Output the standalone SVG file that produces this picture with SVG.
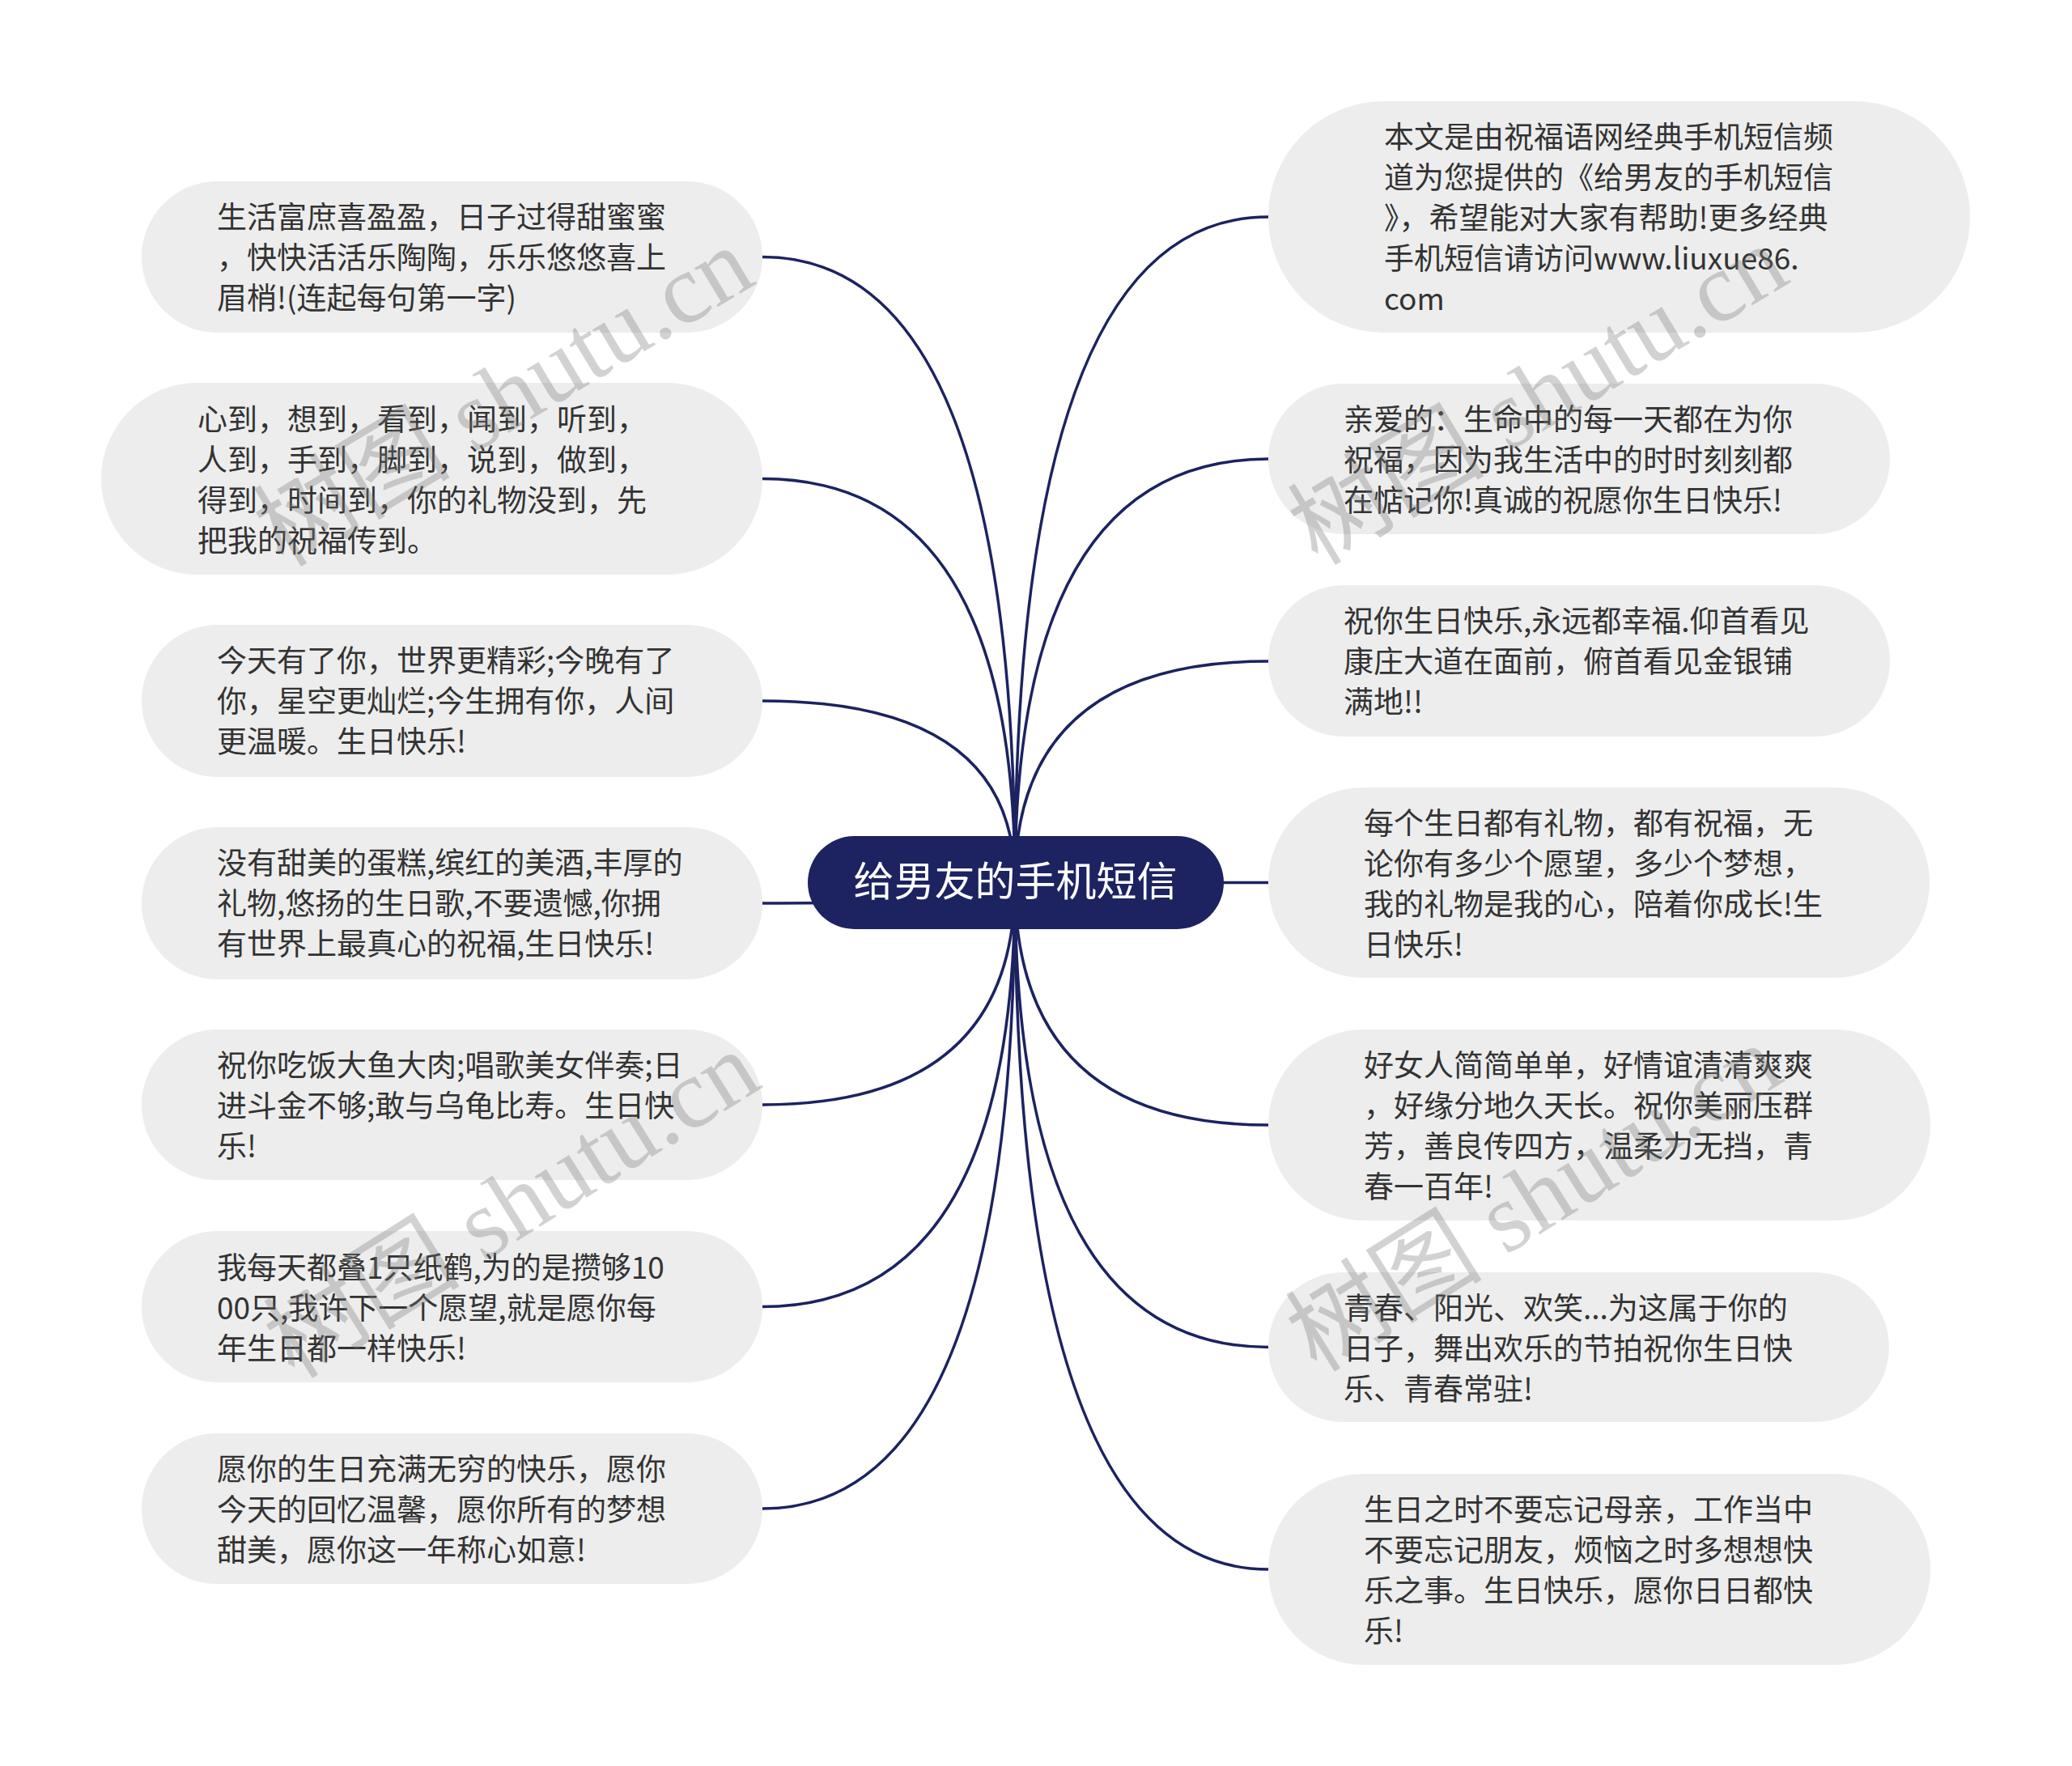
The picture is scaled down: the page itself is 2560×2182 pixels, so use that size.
<svg xmlns="http://www.w3.org/2000/svg" width="2560" height="2182" viewBox="0 0 2560 2182">
<style>
.n{fill:#ededed}
.t{font-family:"Noto Sans CJK SC","Noto Sans",sans-serif;font-size:37px;fill:#333333}
.c{fill:#1c2360}
.ct{font-family:"Noto Sans CJK SC","Noto Sans",sans-serif;font-size:50px;fill:#ffffff}
.e{fill:none;stroke:#1c2360;stroke-width:3.5}
.w{font-family:"Liberation Serif","Noto Sans CJK SC",serif;font-size:122px;fill:#777777;opacity:0.32}
</style>
<rect width="2560" height="2182" fill="#ffffff"/>
<g id="connectors">
<path class="e" d="M1254,1090 Q1254,317.5 942,317.5"/>
<path class="e" d="M1254,1090 Q1254,591.5 942,591.5"/>
<path class="e" d="M1254,1090 Q1254,866 942,866"/>
<path class="e" d="M1254,1090 Q1254,1116 942,1116"/>
<path class="e" d="M1254,1090 Q1254,1365 942,1365"/>
<path class="e" d="M1254,1090 Q1254,1614.5 942,1614.5"/>
<path class="e" d="M1254,1090 Q1254,1864 942,1864"/>
<path class="e" d="M1254,1090 Q1254,268 1567,268"/>
<path class="e" d="M1254,1090 Q1254,567 1567,567"/>
<path class="e" d="M1254,1090 Q1254,817 1567,817"/>
<path class="e" d="M1254,1090.5 L1567,1090.5"/>
<path class="e" d="M1254,1090 Q1254,1390 1567,1390"/>
<path class="e" d="M1254,1090 Q1254,1664.5 1567,1664.5"/>
<path class="e" d="M1254,1090 Q1254,1939 1567,1939"/>
</g>
<g id="center">
<rect class="c" x="998" y="1033" width="514" height="115" rx="57.5"/>
<text class="ct" x="1254.5" y="1107" text-anchor="middle">给男友的手机短信</text>
</g>
<g id="L1">
<rect class="n" x="175" y="224" width="767" height="187" rx="93.5"/>
<text class="t"><tspan x="268" y="282">生活富庶喜盈盈，日子过得甜蜜蜜</tspan><tspan x="268" y="332">，快快活活乐陶陶，乐乐悠悠喜上</tspan><tspan x="268" y="382">眉梢!(连起每句第一字)</tspan></text>
</g>
<g id="L2">
<rect class="n" x="125" y="473" width="817" height="237" rx="118.5"/>
<text class="t"><tspan x="244" y="532">心到，想到，看到，闻到，听到，</tspan><tspan x="244" y="582">人到，手到，脚到，说到，做到，</tspan><tspan x="244" y="632">得到，时间到，你的礼物没到，先</tspan><tspan x="244" y="682">把我的祝福传到。</tspan></text>
</g>
<g id="L3">
<rect class="n" x="175" y="772" width="767" height="188" rx="94"/>
<text class="t"><tspan x="268" y="830">今天有了你，世界更精彩;今晚有了</tspan><tspan x="268" y="880">你，星空更灿烂;今生拥有你，人间</tspan><tspan x="268" y="930">更温暖。生日快乐!</tspan></text>
</g>
<g id="L4">
<rect class="n" x="175" y="1022" width="767" height="188" rx="94"/>
<text class="t"><tspan x="268" y="1080">没有甜美的蛋糕,缤红的美酒,丰厚的</tspan><tspan x="268" y="1130">礼物,悠扬的生日歌,不要遗憾,你拥</tspan><tspan x="268" y="1180">有世界上最真心的祝福,生日快乐!</tspan></text>
</g>
<g id="L5">
<rect class="n" x="175" y="1272" width="767" height="186" rx="93"/>
<text class="t"><tspan x="268" y="1330">祝你吃饭大鱼大肉;唱歌美女伴奏;日</tspan><tspan x="268" y="1380">进斗金不够;敢与乌龟比寿。生日快</tspan><tspan x="268" y="1430">乐!</tspan></text>
</g>
<g id="L6">
<rect class="n" x="175" y="1521" width="767" height="187" rx="93.5"/>
<text class="t"><tspan x="268" y="1580">我每天都叠1只纸鹤,为的是攒够10</tspan><tspan x="268" y="1630">00只,我许下一个愿望,就是愿你每</tspan><tspan x="268" y="1680">年生日都一样快乐!</tspan></text>
</g>
<g id="L7">
<rect class="n" x="175" y="1771" width="767" height="186" rx="93"/>
<text class="t"><tspan x="268" y="1829">愿你的生日充满无穷的快乐，愿你</tspan><tspan x="268" y="1879">今天的回忆温馨，愿你所有的梦想</tspan><tspan x="268" y="1929">甜美，愿你这一年称心如意!</tspan></text>
</g>
<g id="R1">
<rect class="n" x="1567" y="125" width="867" height="286" rx="143"/>
<text class="t"><tspan x="1710" y="183">本文是由祝福语网经典手机短信频</tspan><tspan x="1710" y="233">道为您提供的《给男友的手机短信</tspan><tspan x="1710" y="283">》，希望能对大家有帮助!更多经典</tspan><tspan x="1710" y="333">手机短信请访问www.liuxue86.</tspan><tspan x="1710" y="383">com</tspan></text>
</g>
<g id="R2">
<rect class="n" x="1567" y="474" width="768" height="186" rx="93"/>
<text class="t"><tspan x="1660" y="532">亲爱的：生命中的每一天都在为你</tspan><tspan x="1660" y="582">祝福，因为我生活中的时时刻刻都</tspan><tspan x="1660" y="632">在惦记你!真诚的祝愿你生日快乐!</tspan></text>
</g>
<g id="R3">
<rect class="n" x="1567" y="723" width="768" height="187" rx="93.5"/>
<text class="t"><tspan x="1660" y="781">祝你生日快乐,永远都幸福.仰首看见</tspan><tspan x="1660" y="831">康庄大道在面前，俯首看见金银铺</tspan><tspan x="1660" y="881">满地!!</tspan></text>
</g>
<g id="R4">
<rect class="n" x="1567" y="973" width="817" height="235" rx="117.5"/>
<text class="t"><tspan x="1685" y="1031">每个生日都有礼物，都有祝福，无</tspan><tspan x="1685" y="1081">论你有多少个愿望，多少个梦想，</tspan><tspan x="1685" y="1131">我的礼物是我的心，陪着你成长!生</tspan><tspan x="1685" y="1181">日快乐!</tspan></text>
</g>
<g id="R5">
<rect class="n" x="1567" y="1272" width="818" height="236" rx="118"/>
<text class="t"><tspan x="1685" y="1330">好女人简简单单，好情谊清清爽爽</tspan><tspan x="1685" y="1380">，好缘分地久天长。祝你美丽压群</tspan><tspan x="1685" y="1430">芳，善良传四方，温柔力无挡，青</tspan><tspan x="1685" y="1480">春一百年!</tspan></text>
</g>
<g id="R6">
<rect class="n" x="1567" y="1572" width="767" height="185" rx="92.5"/>
<text class="t"><tspan x="1660" y="1630">青春、阳光、欢笑...为这属于你的</tspan><tspan x="1660" y="1680">日子，舞出欢乐的节拍祝你生日快</tspan><tspan x="1660" y="1730">乐、青春常驻!</tspan></text>
</g>
<g id="R7">
<rect class="n" x="1567" y="1821" width="818" height="236" rx="118"/>
<text class="t"><tspan x="1685" y="1879">生日之时不要忘记母亲，工作当中</tspan><tspan x="1685" y="1929">不要忘记朋友，烦恼之时多想想快</tspan><tspan x="1685" y="1979">乐之事。生日快乐，愿你日日都快</tspan><tspan x="1685" y="2029">乐!</tspan></text>
</g>
<g id="watermarks">
<text class="w" transform="translate(350,702) rotate(-31)">树图 shutu.cn</text>
<text class="w" transform="translate(1628,700) rotate(-31)">树图 shutu.cn</text>
<text class="w" transform="translate(364,1705) rotate(-32)">树图 shutu.cn</text>
<text class="w" transform="translate(1627,1697) rotate(-32)">树图 shutu.cn</text>
</g>
</svg>
